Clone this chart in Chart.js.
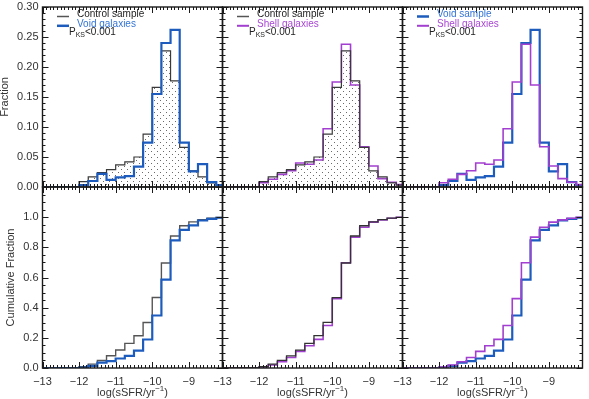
<!DOCTYPE html>
<html>
<head>
<meta charset="utf-8">
<script src="https://cdn.jsdelivr.net/npm/chart.js@4.4.0/dist/chart.umd.min.js"></script>
<style>
  body { margin: 0; background: #fff; }
  #wrap { position: relative; width: 589px; height: 399px; }
  #wrap canvas { position: absolute; left: 0; top: 0; }
</style>
</head>
<body>
<div id="wrap">
  <canvas id="c0" width="589" height="399"></canvas>
  <canvas id="c1" width="589" height="399"></canvas>
  <canvas id="c2" width="589" height="399"></canvas>
  <canvas id="c3" width="589" height="399"></canvas>
  <canvas id="c4" width="589" height="399"></canvas>
  <canvas id="c5" width="589" height="399"></canvas>
</div>
<script>
// bins of log(sSFR/yr^-1), 0.25 dex wide
const binEdges = [-12, -11.75, -11.5, -11.25, -11, -10.75, -10.5, -10.25, -10,
  -9.75, -9.5, -9.25, -9, -8.75, -8.5, -8.25, -8];

// fraction per bin
const controlFrac = [0.009, 0.017, 0.024, 0.029, 0.037, 0.042, 0.050, 0.088, 0.166, 0.227, 0.177, 0.066, 0.027, 0.017, 0.007, 0.003];
const voidFrac    = [0.003, 0.010, 0.022, 0.012, 0.016, 0.018, 0.034, 0.074, 0.155, 0.240, 0.262, 0.074, 0.026, 0.038, 0.008, 0.003];
const shellFrac   = [0.007, 0.013, 0.021, 0.027, 0.040, 0.038, 0.045, 0.097, 0.175, 0.238, 0.170, 0.067, 0.035, 0.014, 0.008, 0.004];

// cumulative fraction per bin
const controlCum = [0.009, 0.026, 0.050, 0.081, 0.119, 0.163, 0.214, 0.302, 0.467, 0.696, 0.875, 0.943, 0.969, 0.984, 0.993, 0.998];
const voidCum    = [0.002, 0.014, 0.035, 0.046, 0.063, 0.081, 0.115, 0.189, 0.348, 0.586, 0.846, 0.916, 0.945, 0.978, 0.989, 0.996];
const shellCum   = [0.007, 0.020, 0.041, 0.070, 0.110, 0.148, 0.190, 0.282, 0.460, 0.698, 0.868, 0.933, 0.967, 0.982, 0.993, 0.999];

// axes
const xMin = -13, xMax = -8.08;
const xTickValues = [-13, -12, -11, -10, -9];
const xTickLabels = ["\u221213", "\u221212", "\u221211", "\u221210", "\u22129"];
const fracTickValues = [0, 0.05, 0.10, 0.15, 0.20, 0.25, 0.30];
const fracTickLabels = ["0.00", "0.05", "0.10", "0.15", "0.20", "0.25", "0.30"];
const cumTickValues = [0, 0.2, 0.4, 0.6, 0.8, 1.0];
const cumTickLabels = ["0.0", "0.2", "0.4", "0.6", "0.8", "1.0"];

const FONT = '"Liberation Sans", Arial, sans-serif';
const CONTROL_COLOR = "#3a3a3a";
const VOID_COLOR = "#1d5cbd";
const SHELL_COLOR = "#a23fd0";

// dotted fill for the control histogram
function dotPattern() {
  const pc = document.createElement("canvas");
  pc.width = 6;
  pc.height = 6;
  const g = pc.getContext("2d");
  g.fillStyle = "#6a6a6a";
  g.fillRect(1, 1, 1, 1);
  g.fillRect(4, 4, 1, 1);
  return g.createPattern(pc, "repeat");
}

function stepPoints(vals) {
  const pts = [{ x: xMin, y: 0 }];
  vals.forEach((v, i) => pts.push({ x: binEdges[i], y: v }));
  pts.push({ x: binEdges[binEdges.length - 1], y: vals[vals.length - 1] });
  return pts;
}

function lineSet(vals, color, width, order, fillPattern) {
  return {
    data: stepPoints(vals),
    borderColor: color,
    borderWidth: width,
    stepped: true,
    pointRadius: 0,
    order: order,
    fill: fillPattern ? "origin" : false,
    backgroundColor: fillPattern || "transparent",
  };
}

function drawPks(ctx, x, y) {
  ctx.fillStyle = "#222";
  ctx.textAlign = "left";
  ctx.font = "10px " + FONT;
  ctx.fillText("P", x, y);
  let w = ctx.measureText("P").width;
  ctx.font = "7px " + FONT;
  ctx.fillText("KS", x + w, y + 3);
  w += ctx.measureText("KS").width;
  ctx.font = "10px " + FONT;
  ctx.fillText("<0.001", x + w, y);
}

// frame, inward ticks, labels and legend for each panel
const panelPlugin = {
  id: "panel",
  afterDatasetsDraw(chart, args, opts) {
    const { ctx, chartArea: a } = chart;
    const xs = chart.scales.x, ys = chart.scales.y;
    ctx.save();
    ctx.strokeStyle = "#1a1a1a";
    ctx.lineWidth = 1;
    ctx.beginPath();
    // x ticks every 0.1, major at integers
    for (let i = 0; i <= 49; i++) {
      const v = xMin + i / 10;
      const px = Math.round(xs.getPixelForValue(v)) + 0.5;
      const len = i % 10 === 0 ? 6 : 3;
      ctx.moveTo(px, a.bottom); ctx.lineTo(px, a.bottom - len);
      ctx.moveTo(px, a.top); ctx.lineTo(px, a.top + len);
    }
    // y ticks
    const nMinor = Math.round((ys.max - ys.min) / opts.yMinor);
    for (let i = 0; i <= nMinor; i++) {
      const v = ys.min + i * opts.yMinor;
      const py = Math.round(ys.getPixelForValue(v)) + 0.5;
      const len = i % opts.majorEvery === 0 ? 6 : 3;
      ctx.moveTo(a.left, py); ctx.lineTo(a.left + len, py);
      ctx.moveTo(a.right, py); ctx.lineTo(a.right - len, py);
    }
    ctx.stroke();
    ctx.lineWidth = 1.4;
    ctx.strokeRect(a.left, a.top, a.right - a.left, a.bottom - a.top);

    ctx.fillStyle = "#333";
    ctx.font = "11px " + FONT;
    if (opts.yLabels) {
      ctx.textAlign = "right";
      ctx.textBaseline = "middle";
      opts.yValues.forEach((v, i) => {
        ctx.fillText(opts.yLabels[i], a.left - 4, ys.getPixelForValue(v));
      });
      ctx.save();
      ctx.translate(opts.yTitleX, (a.top + a.bottom) / 2);
      ctx.rotate(-Math.PI / 2);
      ctx.textAlign = "center";
      ctx.fillText(opts.yTitle, 0, 0);
      ctx.restore();
    }
    if (opts.xLabels) {
      ctx.textAlign = "center";
      ctx.textBaseline = "middle";
      xTickValues.forEach((v, i) => {
        ctx.fillText(xTickLabels[i], xs.getPixelForValue(v), 382);
      });
      // x title with superscript
      const t1 = "log(sSFR/yr", t3 = ")";
      ctx.font = "11px " + FONT;
      const w1 = ctx.measureText(t1).width, w3 = ctx.measureText(t3).width;
      ctx.font = "8px " + FONT;
      const w2 = ctx.measureText("\u22121").width;
      let x0 = (a.left + a.right) / 2 - (w1 + w2 + w3) / 2;
      ctx.textAlign = "left";
      ctx.font = "11px " + FONT;
      ctx.fillText(t1, x0, 393);
      ctx.font = "8px " + FONT;
      ctx.fillText("\u22121", x0 + w1, 389);
      ctx.font = "11px " + FONT;
      ctx.fillText(t3, x0 + w1 + w2, 393);
    }
    if (opts.legend) {
      ctx.textBaseline = "middle";
      opts.legend.forEach((item, i) => {
        const y = a.top + 7.5 + i * 9.3;
        ctx.strokeStyle = item.color;
        ctx.lineWidth = item.width;
        ctx.beginPath();
        ctx.moveTo(a.left + 14.5, y + 2);
        ctx.lineTo(a.left + 26.5, y + 2);
        ctx.stroke();
        ctx.fillStyle = item.textColor;
        ctx.font = "10px " + FONT;
        ctx.textAlign = "left";
        ctx.fillText(item.text, a.left + 34.5, y);
      });
      drawPks(ctx, a.left + 26.5, a.top + 25);
    }
    ctx.restore();
  },
};

const cols = [42.5, 222.5, 402.5];
const panelW = 180;
const rows = [{ top: 7, bottom: 187 }, { top: 187, bottom: 368 }];

const legControl = { text: "Control sample", color: "#555", width: 1.5, textColor: "#222" };
const legVoidGal = { text: "Void galaxies", color: VOID_COLOR, width: 2.5, textColor: "#3474d4" };
const legVoidSam = { text: "Void sample", color: VOID_COLOR, width: 2.5, textColor: "#3474d4" };
const legShell = { text: "Shell galaxies", color: SHELL_COLOR, width: 2, textColor: "#a848d4" };

const pattern = dotPattern();

const panels = [
  { col: 0, row: 0, sets: [lineSet(controlFrac, CONTROL_COLOR, 1.2, 2, pattern), lineSet(voidFrac, VOID_COLOR, 2.2, 1)], legend: [legControl, legVoidGal] },
  { col: 1, row: 0, sets: [lineSet(controlFrac, CONTROL_COLOR, 1.2, 1, pattern), lineSet(shellFrac, SHELL_COLOR, 1.6, 2)], legend: [legControl, legShell] },
  { col: 2, row: 0, sets: [lineSet(voidFrac, VOID_COLOR, 2.2, 2), lineSet(shellFrac, SHELL_COLOR, 1.6, 1)], legend: [legVoidSam, legShell] },
  { col: 0, row: 1, sets: [lineSet(controlCum, "#555", 1.4, 2), lineSet(voidCum, VOID_COLOR, 2.2, 1)] },
  { col: 1, row: 1, sets: [lineSet(controlCum, "#333", 1.3, 1), lineSet(shellCum, SHELL_COLOR, 1.6, 2)] },
  { col: 2, row: 1, sets: [lineSet(voidCum, VOID_COLOR, 2.2, 2), lineSet(shellCum, SHELL_COLOR, 1.6, 1)] },
];

panels.forEach((p, idx) => {
  const top = p.row === 0;
  const r = rows[p.row];
  const left = cols[p.col];
  new Chart(document.getElementById("c" + idx), {
    type: "line",
    data: { datasets: p.sets },
    options: {
      responsive: false,
      animation: false,
      layout: { padding: { left: left, right: 589 - left - panelW, top: r.top, bottom: 399 - r.bottom } },
      scales: {
        x: { type: "linear", min: xMin, max: xMax, display: false },
        y: { type: "linear", min: 0, max: top ? 0.30 : 1.2, display: false },
      },
      plugins: {
        legend: { display: false },
        tooltip: { enabled: false },
        panel: {
          yMinor: top ? 0.01 : 0.05,
          majorEvery: top ? 5 : 4,
          yValues: top ? fracTickValues : cumTickValues,
          yLabels: p.col === 0 ? (top ? fracTickLabels : cumTickLabels) : null,
          yTitle: top ? "Fraction" : "Cumulative Fraction",
          yTitleX: top ? 5 : 11,
          xLabels: !top,
          legend: p.legend || null,
        },
      },
    },
    plugins: [panelPlugin],
  });
});
</script>
</body>
</html>
